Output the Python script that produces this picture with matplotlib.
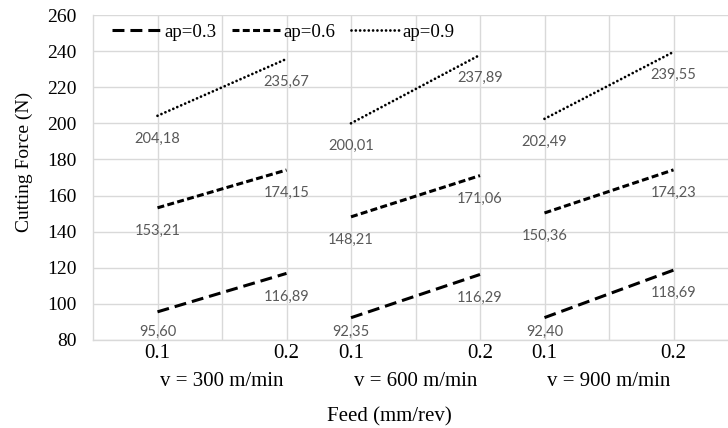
import matplotlib
matplotlib.use("Agg")
import matplotlib.pyplot as plt

# data
speeds = ["v = 300 m/min", "v = 600 m/min", "v = 900 m/min"]
feeds = ["0.1", "0.2"]
ap_labels = ["ap=0.3", "ap=0.6", "ap=0.9"]
force_ap03 = [[95.60, 116.89], [92.35, 116.29], [92.40, 118.69]]
force_ap06 = [[153.21, 174.15], [148.21, 171.06], [150.36, 174.23]]
force_ap09 = [[204.18, 235.67], [200.01, 237.89], [202.49, 239.55]]
y_ticks = list(range(80, 261, 20))

plt.rcParams["lines.scale_dashes"] = False
serif = "Liberation Serif"
grid_col = "#d9d9d9"
label_col = "#595959"

fig = plt.figure(figsize=(7.28, 4.28), dpi=100)
W, H = 728, 428
ax = fig.add_axes([93 / W, 1 - 340 / H, 1 - 93 / W, (340 - 15) / H])

styles = [
    dict(dashes=(8.6, 4.3), lw=2.2, dash_capstyle="butt"),
    dict(dashes=(5.0, 2.4), lw=2.2, dash_capstyle="butt"),
    dict(dashes=(0.01, 3.1), lw=2.0, dash_capstyle="round"),
]
series = [force_ap03, force_ap06, force_ap09]

ax.set_xlim(0, (W - 93) / 64.5)
ax.set_ylim(80, 260)

# positions: each speed group uses 3 slots, feed points on the outer two
positions = []
for g in range(len(speeds)):
    positions.append([3 * g + 1, 3 * g + 3])

for s, (vals, st) in enumerate(zip(series, styles)):
    for g, pair in enumerate(vals):
        ax.plot(positions[g], pair, color="black", label=ap_labels[s] if g == 0 else None, **st)

fig.canvas.draw()
for vals in series:
    for g, pair in enumerate(vals):
        for x, v in zip(positions[g], pair):
            py = ax.transData.transform((x, v))[1]
            bottom = ax.transData.transform((x, 80))[1]
            off = min(23, py - bottom - 8)
            ax.annotate(f"{v:.2f}".replace(".", ","), xy=(x, v), xytext=(0, -off),
                        textcoords="offset pixels", ha="center", va="center",
                        fontsize=10.5, family="Lato", color=label_col)

ticks = list(range(1, 10))
tick_labels = []
for g in range(len(speeds)):
    tick_labels += [feeds[0], "", feeds[1]]
ax.set_xticks(ticks, tick_labels)
ax.set_yticks(y_ticks)
ax.tick_params(axis="both", length=0)
ax.tick_params(axis="x", pad=3)
ax.tick_params(axis="y", pad=12)
for lab in ax.get_xticklabels():
    lab.set_fontfamily(serif)
    lab.set_fontsize(15)
for lab in ax.get_yticklabels():
    lab.set_fontfamily(serif)
    lab.set_fontsize(14)

ax.grid(True, color=grid_col, lw=1)
ax.set_axisbelow(True)
for side in ["top", "right"]:
    ax.spines[side].set_visible(False)
for side in ["left", "bottom"]:
    ax.spines[side].set_color(grid_col)
    ax.spines[side].set_linewidth(1)

for g, name in enumerate(speeds):
    ax.annotate(name, xy=(sum(positions[g]) / 2, 0), xycoords=("data", "axes fraction"),
                xytext=(0, -42), textcoords="offset pixels", ha="center", va="center",
                fontsize=15, family=serif)

fig.text(389 / W, 1 - 417 / H, "Feed (mm/rev)", ha="center", va="center",
         fontsize=15, family=serif)
fig.text(24 / W, 1 - 162 / H, "Cutting Force (N)", ha="center", va="center",
         rotation=90, fontsize=14, family=serif)

leg = ax.legend(loc="center left", bbox_to_anchor=(103 / W, 1 - 32 / H),
                bbox_transform=fig.transFigure, ncol=3, frameon=False,
                borderpad=0, handlelength=2.55, handletextpad=0.2,
                columnspacing=0.8, prop={"family": serif, "size": 13.6})

fig.savefig("out.png", dpi=100)
